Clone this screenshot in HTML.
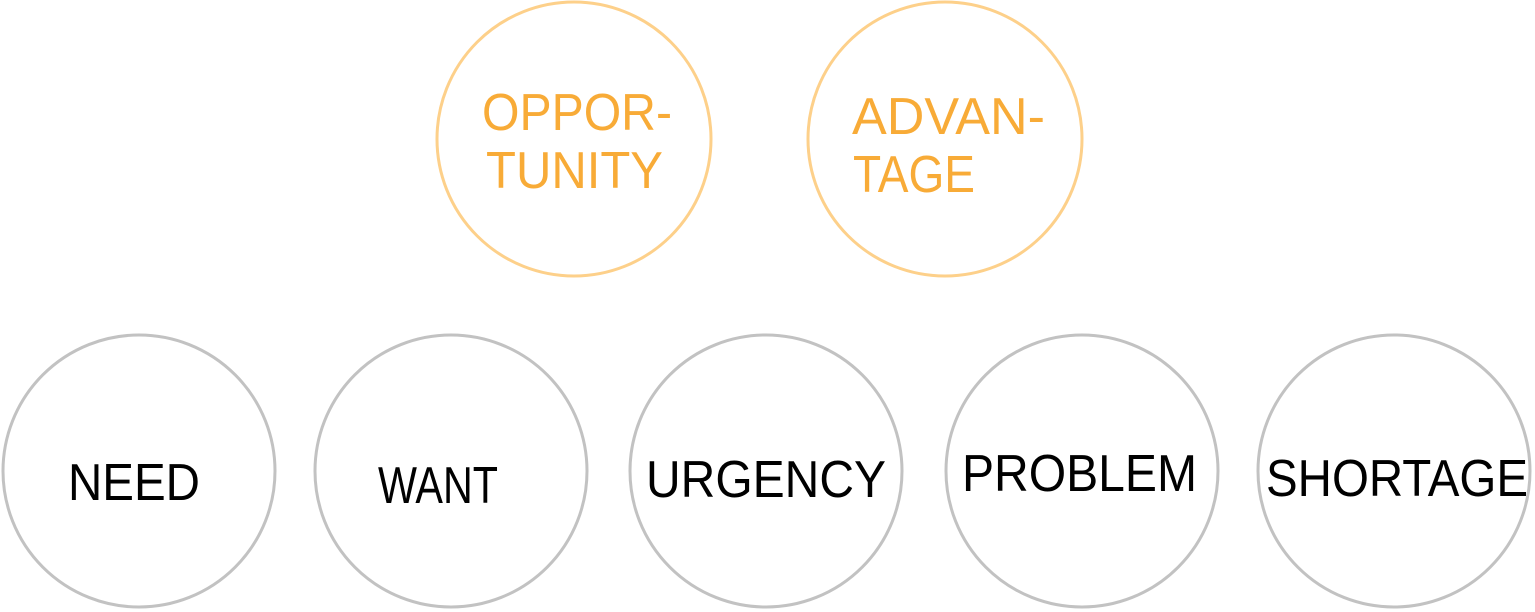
<!DOCTYPE html>
<html><head><meta charset="utf-8"><style>
html,body{margin:0;padding:0;background:#fff;}
svg{display:block;}
text{font-family:"Liberation Sans",sans-serif;font-size:52px;}
</style></head><body>
<svg width="1535" height="612" viewBox="0 0 1535 612">
<g>
<circle cx="574" cy="139" r="137" fill="none" stroke="#fdd08a" stroke-width="3"/>
<text x="482" y="130" textLength="190" lengthAdjust="spacingAndGlyphs" fill="#f8ab37">OPPOR-</text>
<text x="486" y="188" textLength="177" lengthAdjust="spacingAndGlyphs" fill="#f8ab37">TUNITY</text>
</g>
<g>
<circle cx="945" cy="139" r="137" fill="none" stroke="#fdd08a" stroke-width="3"/>
<text x="852" y="134" textLength="193" lengthAdjust="spacingAndGlyphs" fill="#f8ab37">ADVAN-</text>
<text x="853" y="192" textLength="122" lengthAdjust="spacingAndGlyphs" fill="#f8ab37">TAGE</text>
</g>
<g>
<circle cx="139" cy="471" r="136" fill="none" stroke="#c2c2c2" stroke-width="3"/>
<text x="68" y="500" textLength="132" lengthAdjust="spacingAndGlyphs" fill="#000">NEED</text>
</g>
<g>
<circle cx="451" cy="471" r="136" fill="none" stroke="#c2c2c2" stroke-width="3"/>
<text x="378" y="503" textLength="120" lengthAdjust="spacingAndGlyphs" fill="#000">WANT</text>
</g>
<g>
<circle cx="766" cy="471" r="136" fill="none" stroke="#c2c2c2" stroke-width="3"/>
<text x="646" y="497" textLength="240" lengthAdjust="spacingAndGlyphs" fill="#000">URGENCY</text>
</g>
<g>
<circle cx="1082" cy="471" r="136" fill="none" stroke="#c2c2c2" stroke-width="3"/>
<text x="962" y="491" textLength="235" lengthAdjust="spacingAndGlyphs" fill="#000">PROBLEM</text>
</g>
<g>
<circle cx="1394" cy="471" r="136" fill="none" stroke="#c2c2c2" stroke-width="3"/>
<text x="1266" y="496" textLength="262" lengthAdjust="spacingAndGlyphs" fill="#000">SHORTAGE</text>
</g>
</svg>
</body></html>
